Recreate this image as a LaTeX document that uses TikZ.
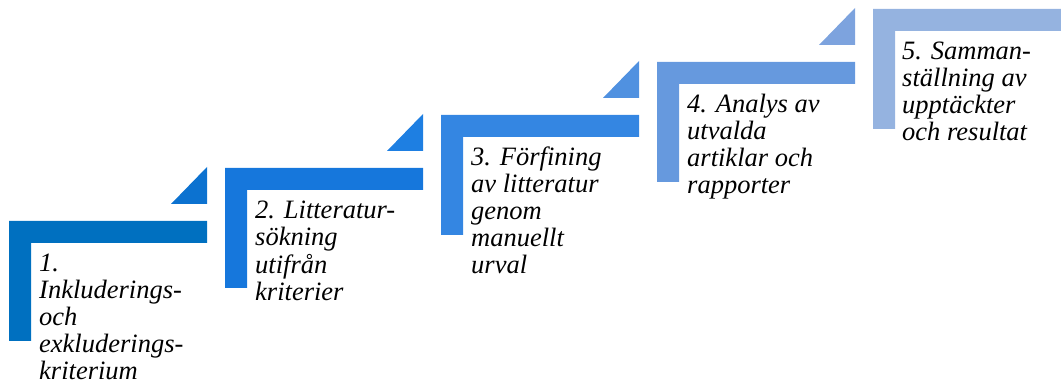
\documentclass[tikz,border=0pt]{standalone}
\usepackage{fontspec}
\setmainfont{Liberation Serif}
\definecolor{cA}{RGB}{0,112,192}
\definecolor{tA}{RGB}{12,114,208}
\definecolor{cB}{RGB}{22,119,220}
\definecolor{tB}{RGB}{30,127,226}
\definecolor{cC}{RGB}{52,134,226}
\definecolor{tC}{RGB}{80,145,224}
\definecolor{cD}{RGB}{102,153,222}
\definecolor{tD}{RGB}{125,163,222}
\definecolor{cE}{RGB}{149,179,224}
\tikzset{
  steptext/.style={anchor=base west, inner sep=0pt,
    font=\itshape\fontsize{26.5}{27}\selectfont, text=black}
}
\newcommand{\toplines}[1]{\begin{tabular}[t]{@{}l@{}}#1\end{tabular}}
\newcommand{\stepL}[3]{%
  \fill[#3] (#1,#2) -- ++(198,0) -- ++(0,22) -- ++(-176,0) -- ++(0,98) -- ++(-22,0) -- cycle;}
\newcommand{\stepT}[3]{%
  \fill[#3] (#1+198,#2-54) -- (#1+198,#2-17) -- (#1+162,#2-17) -- cycle;}
\begin{document}
\begin{tikzpicture}[x=1pt,y=-1pt]
\useasboundingbox (0,0) rectangle (1061,387);
\clip (0,0) rectangle (1061,387);
\stepL{9}{221}{cA}
\stepT{9}{221}{tA}
\stepL{225}{168}{cB}
\stepT{225}{168}{tB}
\stepL{441}{115}{cC}
\stepT{441}{115}{tC}
\stepL{657}{62}{cD}
\stepT{657}{62}{tD}
\stepL{873}{9}{cE}
\node[steptext] (s1) at (39,272) {\toplines{1.\\Inkluderings-\\och\\exkluderings-\\kriterium}};
\node[steptext] (s2) at (255,219) {\toplines{2. Litteratur-\\sökning\\utifrån\\kriterier}};
\node[steptext] (s3) at (471,166) {\toplines{3. Förfining\\av litteratur\\genom\\manuellt\\urval}};
\node[steptext] (s4) at (687,113) {\toplines{4. Analys av\\utvalda\\artiklar och\\rapporter}};
\node[steptext] (s5) at (902,60) {\toplines{5. Samman-\\ställning av\\upptäckter\\och resultat}};
\end{tikzpicture}
\end{document}
